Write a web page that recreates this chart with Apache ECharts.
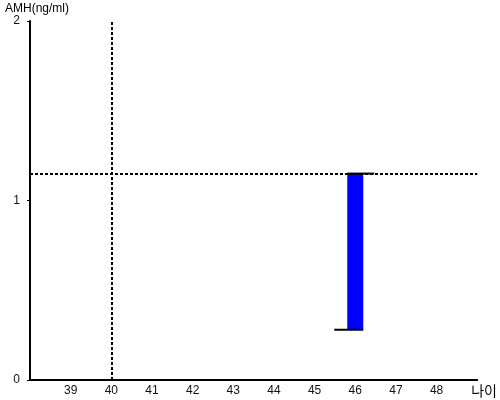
<!DOCTYPE html>
<html>
<head>
<meta charset="utf-8">
<script src="https://cdn.jsdelivr.net/npm/echarts@6/dist/echarts.min.js"></script>
<style>html,body{margin:0;padding:0;background:#fff;}#c{width:500px;height:400px;}</style>
</head>
<body>
<div id="c"></div>
<script>
// Data
const xTickLabels = [39, 40, 41, 42, 43, 44, 45, 46, 47, 48];
const barAge = [46];
const barLow = [0.28];
const barHigh = [1.15];
const refAge = 40;
const refAMH = 1.15;
const xAxisName = '나이';
const yAxisName = 'AMH(ng/ml)';

const chart = echarts.init(document.getElementById('c'), null, {renderer: 'canvas'});
const font = 'Liberation Sans, Arial, sans-serif';
chart.setOption({
  animation: false,
  grid: {left: 30, right: 20, top: 21, bottom: 20},
  xAxis: {
    type: 'value', min: 38, max: 49, interval: 1,
    name: xAxisName, nameLocation: 'end', nameGap: -6,
    nameTextStyle: {fontFamily: 'Noto Sans CJK KR', fontSize: 14, color: '#000', verticalAlign: 'top', padding: [4, 0, 0, 0]},
    axisLine: {lineStyle: {color: '#000', width: 2}},
    axisTick: {show: false},
    splitLine: {show: false},
    axisLabel: {
      color: '#111', fontFamily: font, fontSize: 12, margin: 5,
      formatter: v => (xTickLabels.indexOf(v) >= 0 ? String(v) : '')
    }
  },
  yAxis: {
    type: 'value', min: 0, max: 2, interval: 1,
    name: yAxisName, nameLocation: 'end', nameGap: 5,
    nameTextStyle: {fontFamily: font, fontSize: 12, color: '#000', align: 'left', padding: [0, 0, 0, -25]},
    axisLine: {show: true, lineStyle: {color: '#000', width: 2}},
    axisTick: {show: true, length: 3, lineStyle: {color: '#000'}},
    splitLine: {show: false},
    axisLabel: {color: '#111', fontFamily: font, fontSize: 12, margin: 10, padding: [4, 0, 0, 0]}
  },
  series: [{
    type: 'custom',
    data: barAge.map((a, i) => [a, barLow[i], barHigh[i]]),
    renderItem: function (params, api) {
      const x = api.value(0), lo = api.value(1), hi = api.value(2);
      const pt = api.coord([x, hi]);
      const pb = api.coord([x, lo]);
      return {
        type: 'group',
        children: [
          {type: 'rect', shape: {x: pt[0] - 8, y: pt[1], width: 16, height: pb[1] - pt[1]}, style: {fill: '#0000ff'}},
          {type: 'line', shape: {x1: pt[0] - 8, y1: pt[1], x2: pt[0] + 19, y2: pt[1]}, style: {stroke: '#000', lineWidth: 2}},
          {type: 'line', shape: {x1: pb[0] - 21, y1: pb[1], x2: pb[0] + 8, y2: pb[1]}, style: {stroke: '#000', lineWidth: 2}}
        ]
      };
    },
    markLine: {
      silent: true,
      symbol: 'none',
      label: {show: false},
      lineStyle: {color: '#000', type: [3, 2], width: 2},
      data: [{xAxis: refAge}, {yAxis: refAMH}]
    }
  }]
});
</script>
</body>
</html>
